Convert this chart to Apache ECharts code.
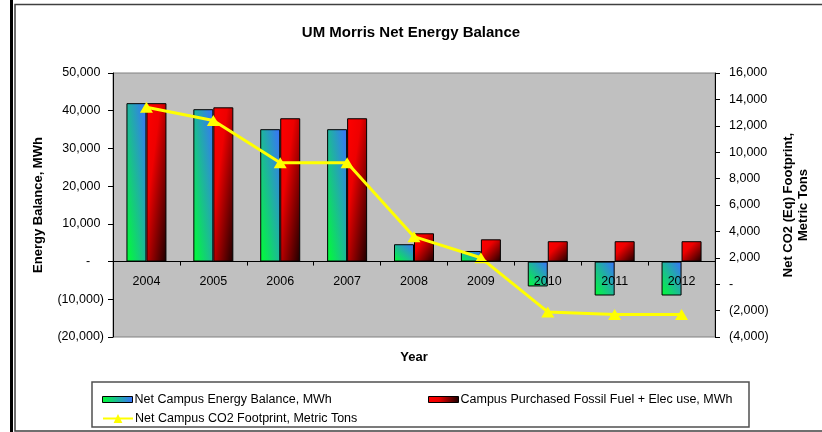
<!DOCTYPE html>
<html>
<head>
<meta charset="utf-8">
<script src="https://cdn.jsdelivr.net/npm/echarts@6/dist/echarts.min.js"></script>
<style>
  html, body { margin: 0; padding: 0; background: #fff; }
  #main { width: 822px; height: 432px; }
</style>
</head>
<body>
<div id="main"></div>
<script>
// data
var years = ['2004', '2005', '2006', '2007', '2008', '2009', '2010', '2011', '2012'];
var netBalance = [42000, 40400, 35100, 35100, 4600, 2800, -6600, -9000, -9000];
var purchased = [42000, 40900, 38000, 38000, 7500, 5900, 5400, 5400, 5400];
var co2 = [13400, 12400, 9200, 9200, 3600, 2000, -2100, -2300, -2300];

var nameBal = 'Net Campus Energy Balance, MWh';
var namePur = 'Campus Purchased Fossil Fuel + Elec use, MWh';
var nameCo2 = 'Net Campus CO2 Footprint, Metric Tons';

var FONT = 'Liberation Sans, Arial, sans-serif';
var GRID_TOP = 73, GRID_H = 264;
var LEFT_MIN = -20000, LEFT_MAX = 50000;
var PX_PER_UNIT = GRID_H / (LEFT_MAX - LEFT_MIN); // used for gradient shape + axis shift
var BAR_W = 20;
// category axis sits on the zero line of the left axis
var ZERO_SHIFT = -LEFT_MIN * PX_PER_UNIT;

// accounting style numbers: 12,000  (2,000)  -
function fmt(v) {
    if (v === 0) return '-    ';
    var s = Math.abs(v).toLocaleString('en-US');
    return v < 0 ? '(' + s + ')' : s + ' ';
}
function fmtR(v) {
    if (v === 0) return '-';
    var s = Math.abs(v).toLocaleString('en-US');
    return v < 0 ? '(' + s + ')' : s;
}

// excel-like stretched diagonal gradient
function diagGrad(h, up, stops) {
    var w = BAR_W;
    if (h < 1) h = 1;
    var s = h * h + w * w;
    var dx = 2 * h * h / s, dy = 2 * w * w / s;
    if (up) return new echarts.graphic.LinearGradient(0, 1, dx, 1 - dy, stops);
    return new echarts.graphic.LinearGradient(0, 0, dx, dy, stops);
}
var blueStops = [{offset: 0, color: '#00ff33'}, {offset: 1, color: '#3a70ff'}];
var redStops = [{offset: 0, color: '#ff0000'}, {offset: 0.35, color: '#ee0000'}, {offset: 1, color: '#1a0000'}];

var chart = echarts.init(document.getElementById('main'), null, {renderer: 'canvas'});

var option = {
    backgroundColor: '#ffffff',
    animation: false,
    textStyle: {fontFamily: FONT, color: '#000'},
    title: {
        text: 'UM Morris Net Energy Balance',
        left: 'center',
        top: 20,
        textStyle: {fontFamily: FONT, fontSize: 15, fontWeight: 'bold', color: '#000'}
    },
    grid: {
        left: 113, right: 107, top: GRID_TOP, bottom: 432 - GRID_TOP - GRID_H,
        outerBoundsMode: 'none',
        containLabel: false,
        show: true,
        backgroundColor: '#c0c0c0',
        borderColor: '#808080',
        borderWidth: 1
    },
    legend: [
        {
            data: [{name: nameBal, icon: 'rect',
                itemStyle: {color: new echarts.graphic.LinearGradient(0, 0, 1, 0, blueStops), borderColor: '#000', borderWidth: 1}}],
            left: 97, top: 388, itemWidth: 30, itemHeight: 6,
            textStyle: {fontFamily: FONT, fontSize: 12.5, color: '#000', padding: [0, 0, 0, -3]}
        },
        {
            data: [{name: namePur, icon: 'rect',
                itemStyle: {color: new echarts.graphic.LinearGradient(0, 0, 1, 0, redStops), borderColor: '#000', borderWidth: 1}}],
            left: 423, top: 388, itemWidth: 30, itemHeight: 6,
            textStyle: {fontFamily: FONT, fontSize: 12.5, color: '#000', padding: [0, 0, 0, -3]}
        },
        {
            data: [nameCo2],
            left: 97, top: 407, itemWidth: 30, itemHeight: 11,
            textStyle: {fontFamily: FONT, fontSize: 12.5, color: '#000', padding: [0, 0, 0, -3]}
        }
    ],
    xAxis: {
        type: 'category',
        data: years,
        z: 10,
        position: 'bottom',
        offset: -ZERO_SHIFT,
        name: 'Year',
        nameLocation: 'middle',
        nameGap: 89,
        nameMoveOverlap: false,
        nameTextStyle: {fontFamily: FONT, fontSize: 13, fontWeight: 'bold', color: '#000'},
        axisLine: {onZero: false, lineStyle: {color: '#000', width: 1}},
        axisTick: {show: true, length: 4, lineStyle: {color: '#000'}},
        axisLabel: {margin: 13, fontFamily: FONT, fontSize: 12.5, color: '#000'},
        splitLine: {show: false}
    },
    yAxis: [
        {
            type: 'value',
            min: LEFT_MIN, max: LEFT_MAX, interval: 10000,
            name: 'Energy Balance, MWh',
            nameLocation: 'middle',
            nameRotate: 90,
            nameGap: 68,
            nameTextStyle: {fontFamily: FONT, fontSize: 13, fontWeight: 'bold', color: '#000'},
            axisLine: {show: true, onZero: false, lineStyle: {color: '#000'}},
            axisTick: {show: true, length: 5, lineStyle: {color: '#000'}},
            axisLabel: {margin: 9, fontFamily: FONT, fontSize: 12.5, color: '#000', formatter: fmt},
            splitLine: {show: false}
        },
        {
            type: 'value',
            position: 'right',
            min: -4000, max: 16000, interval: 2000,
            name: 'Net CO2 (Eq) Footprint,\nMetric Tons',
            nameLocation: 'middle',
            nameRotate: 90,
            nameGap: 66,
            nameTextStyle: {fontFamily: FONT, fontSize: 13, fontWeight: 'bold', color: '#000', lineHeight: 15},
            axisLine: {show: true, onZero: false, lineStyle: {color: '#000'}},
            axisTick: {show: true, length: 5, lineStyle: {color: '#000'}},
            axisLabel: {margin: 14, fontFamily: FONT, fontSize: 12.5, color: '#000', formatter: fmtR},
            splitLine: {show: false}
        }
    ],
    series: [
        {
            name: nameBal,
            type: 'bar',
            yAxisIndex: 0,
            data: netBalance,
            barWidth: BAR_W,
            barGap: '0%',
            itemStyle: {
                borderColor: '#000',
                borderWidth: 1,
                color: function (p) {
                    return diagGrad(Math.abs(p.value) * PX_PER_UNIT, true, blueStops);
                }
            }
        },
        {
            name: namePur,
            type: 'bar',
            yAxisIndex: 0,
            data: purchased,
            barWidth: BAR_W,
            barGap: '0%',
            itemStyle: {
                borderColor: '#000',
                borderWidth: 1,
                color: function (p) {
                    return diagGrad(Math.abs(p.value) * PX_PER_UNIT, false, redStops);
                }
            }
        },
        {
            name: nameCo2,
            type: 'line',
            yAxisIndex: 1,
            data: co2,
            z: 5,
            symbol: 'triangle',
            symbolSize: [13, 11],
            lineStyle: {color: '#ffff00', width: 3},
            itemStyle: {color: '#ffff00', borderWidth: 0}
        }
    ],
    graphic: [
        // outer frame
        {type: 'rect', left: 10, top: 0, shape: {width: 3, height: 432}, style: {fill: '#000'}, silent: true},
        {type: 'rect', shape: {x: 15, y: 4.5, width: 820, height: 426.5},
            style: {fill: 'none', stroke: '#404040', lineWidth: 1.5}, silent: true},
        // legend box
        {type: 'rect', shape: {x: 92, y: 382, width: 657, height: 45},
            style: {fill: 'none', stroke: '#505050', lineWidth: 1.5}, silent: true, z: -1}
    ]
};

chart.setOption(option);
</script>
</body>
</html>
